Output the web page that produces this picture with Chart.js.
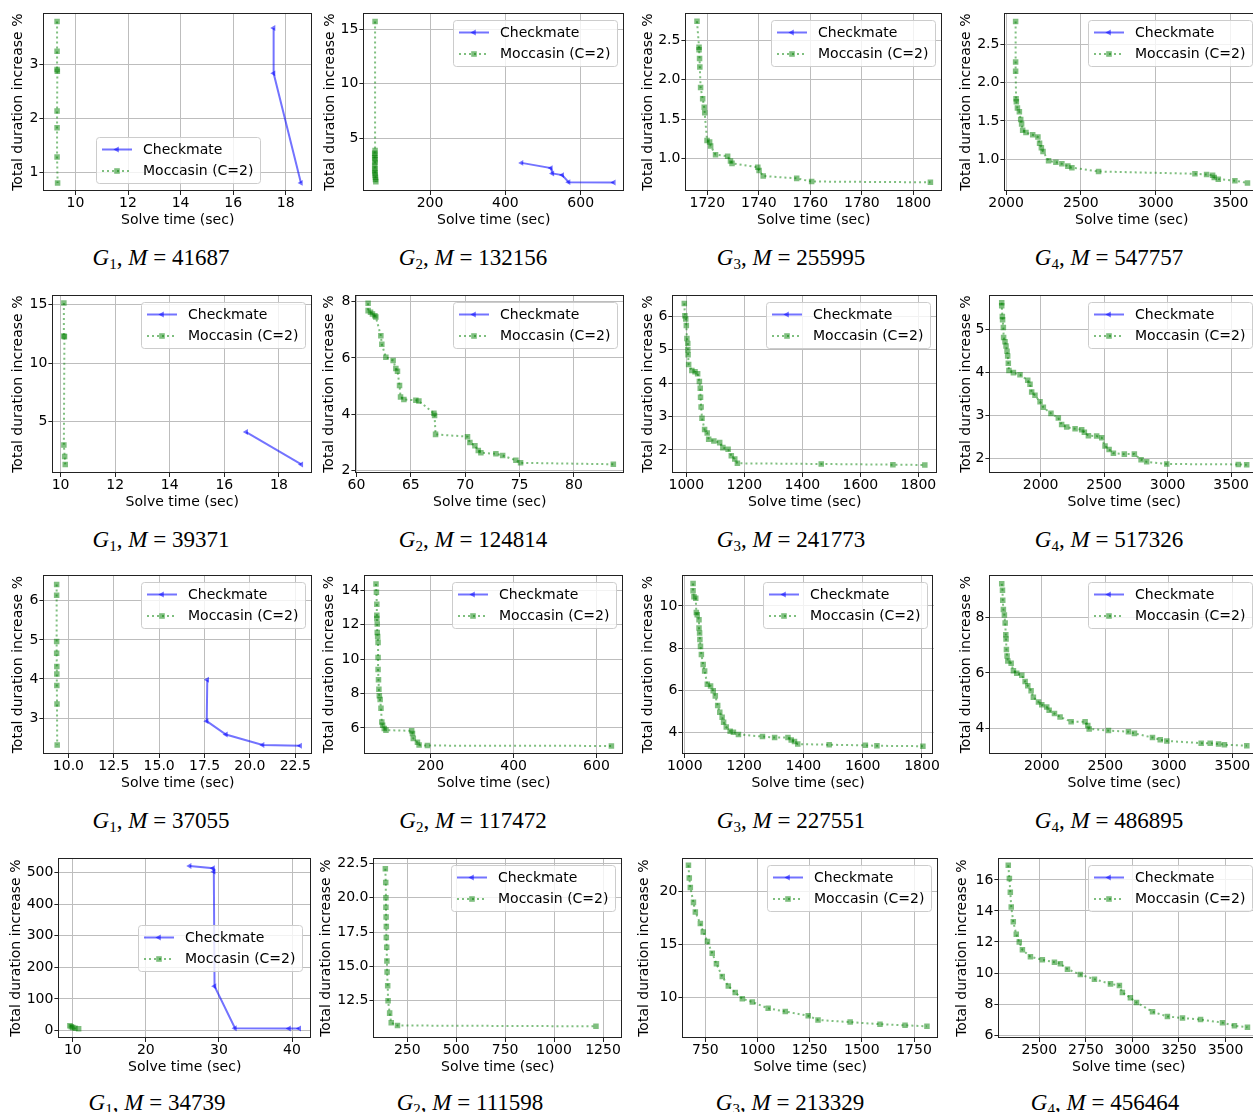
<!DOCTYPE html>
<html>
<head>
<meta charset="utf-8">
<script src="https://cdn.jsdelivr.net/npm/chart.js@4.4.0/dist/chart.umd.min.js"></script>
<style>
  html, body { margin: 0; padding: 0; background: #fff; overflow: hidden; }
  #wrap { position: relative; width: 1253px; height: 1112px; overflow: hidden; }
  #wrap canvas { position: absolute; }
  .cap { position: absolute; transform: translate(-50%, -50%); white-space: nowrap;
         font-family: 'Liberation Serif', 'DejaVu Serif', serif; font-size: 23px; color: #000; }
  .cap sub { font-size: 15px; vertical-align: -4px; line-height: 0; font-style: normal; }
</style>
</head>
<body>
<div id="wrap"></div>
<script>
// ---- data ----
const seriesNames = ['Checkmate', 'Moccasin (C=2)'];
const graphIdx = [1, 2, 3, 4, 1, 2, 3, 4, 1, 2, 3, 4, 1, 2, 3, 4];
const mValues = [41687, 132156, 255995, 547757, 39371, 124814, 241773, 517326,
                 37055, 117472, 227551, 486895, 34739, 111598, 213329, 456464];

const xTickLabels = [
  ['10', '12', '14', '16', '18'], ['200', '400', '600'], ['1720', '1740', '1760', '1780', '1800'], ['2000', '2500', '3000', '3500'],
  ['10', '12', '14', '16', '18'], ['60', '65', '70', '75', '80'], ['1000', '1200', '1400', '1600', '1800'], ['2000', '2500', '3000', '3500'],
  ['10.0', '12.5', '15.0', '17.5', '20.0', '22.5'], ['200', '400', '600'], ['1000', '1200', '1400', '1600', '1800'], ['2000', '2500', '3000', '3500'],
  ['10', '20', '30', '40'], ['250', '500', '750', '1000', '1250'], ['750', '1000', '1250', '1500', '1750'], ['2500', '2750', '3000', '3250', '3500']
];
const yTickLabels = [
  ['1', '2', '3'], ['5', '10', '15'], ['1.0', '1.5', '2.0', '2.5'], ['1.0', '1.5', '2.0', '2.5'],
  ['5', '10', '15'], ['2', '4', '6', '8'], ['2', '3', '4', '5', '6'], ['2', '3', '4', '5'],
  ['3', '4', '5', '6'], ['6', '8', '10', '12', '14'], ['4', '6', '8', '10'], ['4', '6', '8'],
  ['0', '100', '200', '300', '400', '500'], ['12.5', '15.0', '17.5', '20.0', '22.5'], ['10', '15', '20'], ['6', '8', '10', '12', '14', '16']
];

// Checkmate series (solve time, duration increase)
const chk01 = [[17.54, 3.67], [17.54, 2.83], [18.58, 0.80]];
const chk02 = [[443, 2.72], [521, 2.24], [525, 1.75], [551, 1.6], [568, 0.95], [688, 0.92]];
const chk05 = [[16.80, 4.13], [18.82, 1.37]];
const chk09 = [[17.65, 3.98], [17.62, 2.92], [18.68, 2.58], [20.7, 2.31], [22.77, 2.29]];
const chk13 = [[26.0, 521], [29.2, 514], [29.3, 503], [29.4, 140], [32.2, 7], [39.6, 6], [41.0, 6]];

// Moccasin (C=2) series
const moc01 = [[9.3, 3.79], [9.3, 3.24], [9.3, 2.9], [9.31, 2.87], [9.3, 2.13], [9.3, 1.82], [9.3, 1.28], [9.32, 0.80]];
const moc02 = [[54, 15.7], [54, 3.85], [53, 3.6], [54, 3.4], [53, 3.2], [54, 3.0], [54, 2.75], [53, 2.5], [54, 2.2],
               [53, 2.0], [54, 1.8], [54, 1.6], [55, 1.4], [55, 1.2], [56, 1.0]];
const moc03 = [[1716.0, 2.74], [1716.8, 2.41], [1716.8, 2.38], [1717.0, 2.27], [1717.1, 2.16], [1717.4, 1.90], [1718.2, 1.76],
               [1718.8, 1.65], [1719.0, 1.58], [1719.9, 1.23], [1720.9, 1.21], [1721.3, 1.16], [1723.2, 1.05], [1727.9, 1.03],
               [1729.0, 0.97], [1729.6, 0.94], [1739.6, 0.89], [1740.1, 0.85], [1741.7, 0.78], [1754.7, 0.75], [1760.5, 0.71],
               [1806.6, 0.70]];
const moc04 = [[2064, 2.80], [2064, 2.27], [2064, 2.15], [2067, 1.79], [2069, 1.75], [2076, 1.67], [2089, 1.62], [2098, 1.52],
               [2104, 1.46], [2111, 1.38], [2133, 1.35], [2178, 1.32], [2213, 1.29], [2224, 1.21], [2236, 1.15], [2247, 1.10],
               [2284, 0.98], [2333, 0.96], [2373, 0.94], [2413, 0.91], [2440, 0.89], [2618, 0.84], [3262, 0.81], [3340, 0.80],
               [3380, 0.79], [3391, 0.76], [3418, 0.74], [3529, 0.72], [3613, 0.69]];
const moc05 = [[10.12, 15.14], [10.12, 12.32], [10.14, 12.26], [10.12, 3.02], [10.15, 2.04], [10.17, 1.37]];
const moc06 = [[61.07, 7.94], [61.07, 7.68], [61.29, 7.62], [61.47, 7.56], [61.69, 7.50], [61.78, 7.45], [62.24, 6.79],
               [62.33, 6.49], [62.70, 6.03], [63.37, 5.91], [63.62, 5.63], [63.77, 5.53], [63.96, 5.02], [64.05, 4.62],
               [64.36, 4.53], [65.46, 4.50], [65.74, 4.47], [67.12, 4.04], [67.18, 3.96], [67.27, 3.29], [70.21, 3.21],
               [70.43, 3.00], [70.89, 2.89], [71.20, 2.72], [71.44, 2.64], [72.82, 2.60], [73.44, 2.54], [74.66, 2.37],
               [75.09, 2.28], [83.62, 2.23]];
const moc07 = [[993, 6.39], [995, 6.02], [998, 5.92], [1000, 5.73], [1002, 5.34], [1005, 5.19], [1005, 5.0], [1006, 4.85],
               [1008, 4.56], [1019, 4.38], [1030, 4.34], [1039, 4.28], [1045, 4.05], [1048, 3.85], [1049, 3.58], [1051, 3.29],
               [1054, 2.95], [1063, 2.61], [1072, 2.51], [1077, 2.32], [1095, 2.27], [1115, 2.22], [1126, 2.07], [1144, 2.02],
               [1155, 1.83], [1167, 1.73], [1176, 1.60], [1465, 1.58], [1712, 1.56], [1822, 1.55]];
const moc08 = [[1693, 5.63], [1693, 5.56], [1698, 5.31], [1700, 5.23], [1706, 5.05], [1708, 4.82], [1719, 4.72], [1727, 4.62],
               [1735, 4.50], [1740, 4.39], [1745, 4.22], [1750, 4.05], [1785, 4.0], [1837, 3.95], [1898, 3.82], [1916, 3.73],
               [1929, 3.55], [1955, 3.47], [1995, 3.32], [2021, 3.19], [2081, 3.05], [2139, 2.94], [2165, 2.79], [2205, 2.73],
               [2271, 2.69], [2323, 2.67], [2344, 2.61], [2376, 2.53], [2441, 2.52], [2481, 2.48], [2507, 2.29], [2539, 2.21],
               [2573, 2.12], [2659, 2.10], [2738, 2.10], [2791, 1.97], [2835, 1.92], [2993, 1.87], [3557, 1.86], [3623, 1.85]];
const moc09 = [[9.35, 6.42], [9.35, 6.14], [9.35, 4.96], [9.35, 4.66], [9.36, 4.32], [9.36, 4.13], [9.36, 3.83], [9.37, 3.36],
               [9.38, 2.31]];
const moc10 = [[68, 14.38], [69, 13.9], [70, 13.2], [70, 12.56], [70, 12.37], [71, 12.05], [71, 11.55], [72, 11.32], [73, 10.98],
               [73, 10.1], [73, 9.4], [74, 8.8], [75, 8.25], [76, 7.87], [78, 7.65], [80, 7.15], [82, 6.34], [84, 6.15],
               [88, 5.96], [92, 5.87], [154, 5.83], [156, 5.68], [158, 5.39], [168, 5.16], [172, 5.0], [192, 4.97], [636, 4.95]];
const moc11 = [[1028, 11.06], [1028, 10.72], [1031, 10.44], [1037, 10.36], [1039, 9.69], [1042, 9.58], [1048, 9.34], [1048, 8.95],
               [1050, 8.72], [1051, 8.41], [1053, 8.08], [1056, 7.69], [1062, 7.22], [1067, 6.91], [1076, 6.28], [1087, 6.2],
               [1096, 5.97], [1103, 5.73], [1111, 5.27], [1118, 4.95], [1126, 4.72], [1131, 4.48], [1140, 4.25], [1153, 4.05],
               [1164, 4.0], [1181, 3.9], [1262, 3.8], [1303, 3.75], [1348, 3.75], [1359, 3.64], [1370, 3.56], [1381, 3.44],
               [1487, 3.41], [1609, 3.38], [1648, 3.36], [1803, 3.34]];
const moc12 = [[1685, 9.20], [1691, 8.97], [1693, 8.61], [1698, 8.28], [1706, 8.08], [1712, 7.79], [1717, 7.37], [1719, 7.22],
               [1722, 6.84], [1727, 6.61], [1733, 6.43], [1759, 6.35], [1777, 6.08], [1803, 5.99], [1843, 5.92], [1869, 5.69],
               [1890, 5.54], [1916, 5.36], [1934, 5.13], [1974, 4.96], [2000, 4.86], [2039, 4.78], [2058, 4.66], [2100, 4.54],
               [2144, 4.42], [2231, 4.25], [2341, 4.25], [2362, 4.11], [2373, 3.99], [2525, 3.93], [2682, 3.89], [2729, 3.83],
               [2871, 3.68], [2932, 3.60], [2984, 3.56], [3254, 3.48], [3325, 3.48], [3391, 3.45], [3437, 3.42], [3613, 3.39]];
const moc13 = [[9.6, 15], [9.8, 12], [10.0, 9], [10.3, 7], [10.8, 5]];
const moc14 = [[138, 22.1], [140, 21.1], [141, 20.0], [141, 19.3], [142, 18.6], [143, 17.9], [143, 17.1], [145, 16.4],
               [146, 15.4], [147, 14.6], [150, 13.6], [152, 12.5], [160, 11.6], [168, 10.9], [200, 10.7], [1214, 10.64]];
const moc15 = [[669, 22.5], [673, 21.3], [678, 20.4], [693, 19.0], [702, 18.1], [726, 17.0], [740, 16.2], [760, 15.3],
               [783, 14.2], [803, 13.2], [831, 12.0], [860, 11.1], [893, 10.5], [927, 9.9], [975, 9.6], [1051, 9.0],
               [1133, 8.7], [1243, 8.3], [1290, 7.9], [1444, 7.7], [1587, 7.5], [1707, 7.4], [1812, 7.3]];
const moc16 = [[2333, 16.95], [2339, 16.1], [2344, 15.2], [2349, 14.25], [2360, 13.3], [2376, 12.5], [2392, 12.0], [2409, 11.5],
               [2452, 11.05], [2516, 10.85], [2581, 10.7], [2613, 10.6], [2651, 10.25], [2720, 9.9], [2796, 9.6], [2882, 9.3],
               [2930, 9.2], [2946, 8.75], [2989, 8.4], [3022, 8.1], [3108, 7.5], [3188, 7.2], [3269, 7.1], [3366, 7.0],
               [3484, 6.8], [3548, 6.6], [3618, 6.5]];

const chkData = [chk01, chk02, [], [], chk05, [], [], [], chk09, [], [], [], chk13, [], [], []];
const mocData = [moc01, moc02, moc03, moc04, moc05, moc06, moc07, moc08, moc09, moc10, moc11, moc12, moc13, moc14, moc15, moc16];

// ---- axis limits ----
const xLimits = [[8.78, 19.0], [23, 715], [1711.5, 1811.1], [1989, 3690], [9.70, 19.21], [59.9, 84.6], [952, 1864], [1596, 3720],
                 [8.62, 23.42], [40, 664], [992, 1840], [1588, 3709], [8.03, 42.6], [77, 1347], [640, 1865], [2280, 3680]];
const yLimits = [[0.65, 3.94], [0.14, 16.44], [0.59, 2.84], [0.585, 2.906], [0.64, 15.78], [1.92, 8.22], [1.31, 6.63], [1.66, 5.80],
                 [2.08, 6.65], [4.48, 14.88], [2.97, 11.45], [3.09, 9.5], [-24, 545], [9.79, 22.86], [6.2, 23.15], [5.81, 17.39]];

// ---- layout (page px) ----
const plotBoxes = [ // left, top, right, bottom of each plot area
  [43, 10, 312, 191], [363, 10, 624, 191], [685, 10, 942, 191], [1004, 10, 1259, 191],
  [52, 292, 312, 473], [355, 292, 624, 473], [672, 292, 937, 473], [989, 292, 1259, 473],
  [43, 572, 312, 754], [364, 572, 623, 754], [682, 572, 936, 754], [989, 572, 1259, 754],
  [58, 855, 311, 1038], [373, 855, 622, 1038], [682, 855, 938, 1038], [998, 855, 1259, 1038]
];
const yTitleX = [18, 330, 648, 966, 18, 329, 648, 966, 18, 329, 648, 966, 16, 326, 644, 962];
const capX = [161, 473, 791, 1109, 161, 473, 791, 1109, 161, 473, 791, 1109, 157, 470, 790, 1105];
const capY = [258, 540, 821, 1103];
const legendPos = ['lc', 'ur', 'ur', 'ur', 'ur', 'ur', 'ur', 'ur', 'ur', 'ur', 'ur', 'ur', 'cr', 'ur', 'ur', 'ur'];

const chkColor = 'rgba(0,0,255,0.55)';
const mocColor = 'rgba(0,128,0,0.5)';
const FONT = 'DejaVu Sans';

Chart.defaults.font.family = FONT;
Chart.defaults.font.size = 14;
Chart.defaults.color = '#000';

function drawMarker(ctx, kind, cx, cy) {
  ctx.beginPath();
  if (kind === 0) {
    const r = 3.6;
    ctx.moveTo(cx - r, cy);
    ctx.lineTo(cx + r / 2, cy - r * 0.866);
    ctx.lineTo(cx + r / 2, cy + r * 0.866);
    ctx.closePath();
    ctx.fillStyle = chkColor;
  } else {
    ctx.rect(cx - 2.8, cy - 2.8, 5.6, 5.6);
    ctx.fillStyle = mocColor;
  }
  ctx.fill();
}

const frameLegend = {
  id: 'frameLegend',
  afterDraw(chart, args, opts) {
    const { ctx, chartArea: a } = chart;
    ctx.save();
    ctx.strokeStyle = '#222';
    ctx.lineWidth = 1;
    ctx.strokeRect(Math.round(a.left) + 0.5, Math.round(a.top) + 0.5,
                   Math.round(a.right - a.left) - 1, Math.round(a.bottom - a.top) - 1);

    ctx.font = '14px "' + FONT + '"';
    const tw = Math.max(...seriesNames.map(s => ctx.measureText(s).width));
    const w = Math.round(47 + tw + 7), h = 46;
    let x, y;
    if (opts.pos === 'ur') { x = a.right - 7 - w; y = a.top + 7; }
    else if (opts.pos === 'lc') { x = (a.left + a.right) / 2 - w / 2; y = a.bottom - 8 - h; }
    else { x = a.right - 9 - w; y = (a.top + a.bottom) / 2 - h / 2; }
    x = Math.round(x); y = Math.round(y);
    ctx.beginPath();
    ctx.roundRect(x + 0.5, y + 0.5, w, h, 3);
    ctx.fillStyle = 'rgba(255,255,255,0.8)';
    ctx.fill();
    ctx.strokeStyle = '#cccccc';
    ctx.stroke();

    seriesNames.forEach((name, i) => {
      const ry = y + 12.5 + i * 21.5;
      ctx.beginPath();
      ctx.moveTo(x + 6, ry);
      ctx.lineTo(x + 36, ry);
      ctx.lineWidth = 2;
      ctx.strokeStyle = i === 0 ? chkColor : mocColor;
      ctx.setLineDash(i === 0 ? [] : [2, 3]);
      ctx.stroke();
      ctx.setLineDash([]);
      drawMarker(ctx, i, x + 21, ry);
      ctx.fillStyle = '#000';
      ctx.textBaseline = 'middle';
      ctx.textAlign = 'left';
      ctx.fillText(name, x + 47, ry + 0.5);
    });
    ctx.restore();
  }
};

const wrap = document.getElementById('wrap');
const toPts = arr => arr.map(p => ({ x: p[0], y: p[1] }));

for (let k = 0; k < 16; k++) {
  const [pl, pt, pr, pb] = plotBoxes[k];
  const left = yTitleX[k] - 8.4;
  const top = pt - 6;
  const width = Math.round(pr + 4 - left);
  const height = Math.round(pb + 38 - top);
  const yw = pl - left;
  const xt = xTickLabels[k], yt = yTickLabels[k];

  const cv = document.createElement('canvas');
  cv.width = width; cv.height = height;
  cv.style.left = left + 'px'; cv.style.top = top + 'px';
  cv.style.width = width + 'px'; cv.style.height = height + 'px';
  wrap.appendChild(cv);

  const axisCommon = {
    type: 'linear',
    bounds: 'data',
    grid: { color: '#bdbdbd', lineWidth: 1, tickLength: 4, tickColor: '#222' },
    border: { display: false }
  };

  new Chart(cv, {
    type: 'scatter',
    data: {
      datasets: [
        { label: seriesNames[0], data: toPts(chkData[k]), showLine: true,
          borderColor: chkColor, backgroundColor: chkColor, borderWidth: 2,
          pointStyle: 'triangle', pointRotation: -90, pointRadius: 3.4, pointBorderWidth: 0 },
        { label: seriesNames[1], data: toPts(mocData[k]), showLine: true,
          borderColor: mocColor, backgroundColor: mocColor, borderWidth: 2, borderDash: [2, 3],
          pointStyle: 'rect', pointRadius: 3.9, pointBorderWidth: 0 }
      ]
    },
    options: {
      responsive: false,
      animation: false,
      devicePixelRatio: 1,
      layout: { padding: { left: 0, top: 6, right: 4, bottom: 0 } },
      plugins: { legend: { display: false }, tooltip: { enabled: false }, frameLegend: { pos: legendPos[k] } },
      scales: {
        x: Object.assign({}, axisCommon, {
          min: xLimits[k][0], max: xLimits[k][1],
          afterFit: s => { s.height = 38; },
          afterBuildTicks: s => { s.ticks = xt.map(v => ({ value: parseFloat(v) })); },
          ticks: { callback: (v, i) => xt[i], padding: 0, maxRotation: 0, autoSkip: false, font: { size: 14 } },
          title: { display: true, text: 'Solve time (sec)', padding: 0, font: { size: 14 } }
        }),
        y: Object.assign({}, axisCommon, {
          min: yLimits[k][0], max: yLimits[k][1],
          afterFit: s => { s.width = yw; },
          afterBuildTicks: s => { s.ticks = yt.map(v => ({ value: parseFloat(v) })); },
          ticks: { callback: (v, i) => yt[i], padding: 1, autoSkip: false, font: { size: 14 } },
          title: { display: true, text: 'Total duration increase %', padding: 0, font: { size: 14 } }
        })
      }
    },
    plugins: [frameLegend]
  });

  const cap = document.createElement('div');
  cap.className = 'cap';
  cap.style.left = capX[k] + 'px';
  cap.style.top = capY[Math.floor(k / 4)] + 'px';
  cap.innerHTML = '<i>G</i><sub>' + graphIdx[k] + '</sub>, <i>M</i> = ' + mValues[k];
  wrap.appendChild(cap);
}
</script>
</body>
</html>
